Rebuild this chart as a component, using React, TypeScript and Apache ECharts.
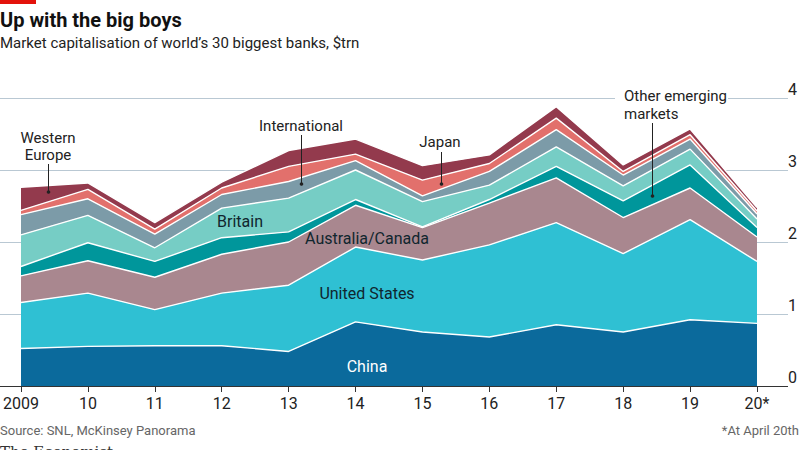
import React, { useEffect, useRef } from "react";
import * as echarts from "echarts";

const years = ["2009", "10", "11", "12", "13", "14", "15", "16", "17", "18", "19", "20*"];
const china = [0.52, 0.55, 0.56, 0.56, 0.48, 0.89, 0.75, 0.68, 0.85, 0.75, 0.92, 0.87];
const unitedStates = [0.64, 0.74, 0.5, 0.73, 0.92, 1.04, 1.0, 1.28, 1.42, 1.09, 1.39, 0.86];
const ausCanada = [0.37, 0.45, 0.45, 0.54, 0.6, 0.58, 0.45, 0.58, 0.62, 0.5, 0.44, 0.34];
const otherEmerging = [0.13, 0.25, 0.22, 0.23, 0.14, 0.08, 0.01, 0.05, 0.16, 0.23, 0.32, 0.13];
const britain = [0.44, 0.38, 0.19, 0.41, 0.47, 0.41, 0.35, 0.2, 0.27, 0.21, 0.22, 0.12];
const international = [0.28, 0.23, 0.19, 0.19, 0.23, 0.13, 0.08, 0.19, 0.24, 0.15, 0.14, 0.07];
const japan = [0.06, 0.13, 0.07, 0.09, 0.21, 0.09, 0.22, 0.11, 0.16, 0.05, 0.06, 0.04];
const westernEurope = [0.32, 0.09, 0.09, 0.08, 0.22, 0.21, 0.2, 0.12, 0.16, 0.09, 0.08, 0.05];
const yTicks = [0, 1, 2, 3, 4];

const FONT = "Roboto, 'Noto Sans', sans-serif";

export default function App() {
  const ref = useRef<HTMLDivElement>(null);
  useEffect(() => {
    if (!ref.current) return;
    const chart = echarts.init(ref.current, null, { renderer: "svg" });
    const defs = [
      { name: "China", data: china, color: "#0b6a9c" },
      { name: "United States", data: unitedStates, color: "#2fc0d3" },
      { name: "Australia/Canada", data: ausCanada, color: "#a9878f" },
      { name: "Other emerging markets", data: otherEmerging, color: "#00969b" },
      { name: "Britain", data: britain, color: "#76cdc5" },
      { name: "International", data: international, color: "#7c9ba8" },
      { name: "Japan", data: japan, color: "#e2706c" },
      { name: "Western Europe", data: westernEurope, color: "#933a4d" },
    ];
    chart.setOption({
      animation: false,
      grid: { left: 17, right: 43, top: 98, bottom: 64 },
      xAxis: {
        type: "category",
        data: years,
        boundaryGap: false,
        axisLine: { show: false },
        axisTick: { show: true, length: 6, lineStyle: { color: "#333", width: 1 } },
        axisLabel: { color: "#222", fontSize: 16, fontFamily: FONT, margin: 9, interval: 0 },
        splitLine: { show: false },
      },
      yAxis: {
        type: "value",
        min: 0,
        max: 4,
        interval: 1,
        position: "right",
        axisLine: { show: false },
        axisTick: { show: false },
        splitLine: { show: false },
        axisLabel: {
          color: "#222",
          fontSize: 16,
          fontFamily: FONT,
          align: "right",
          verticalAlign: "bottom",
          margin: 40,
          padding: [0, 0, 1, 0],
        },
      },
      series: defs.map((d, i) => ({
        type: "line",
        name: d.name,
        stack: "total",
        data: d.data,
        symbol: "none",
        z: 20 - i,
        lineStyle: { color: "#ffffff", width: 1.4 },
        itemStyle: { color: d.color },
        areaStyle: { color: d.color, opacity: 1 },
      })),
    });

    const gridColor = "#b9c8d3";
    const graphics: any[] = [];
    yTicks.forEach((v) => {
      const y = Math.round(chart.convertToPixel({ yAxisIndex: 0 }, v) as number) + 0.5;
      if (v === 0) return;
      if (v === 4) {
        graphics.push({ type: "line", z: -10, shape: { x1: 0, y1: y, x2: 615, y2: y }, style: { stroke: gridColor, lineWidth: 1 } });
        graphics.push({ type: "line", z: -10, shape: { x1: 728, y1: y, x2: 788, y2: y }, style: { stroke: gridColor, lineWidth: 1 } });
      } else {
        graphics.push({ type: "line", z: -10, shape: { x1: 0, y1: y, x2: 788, y2: y }, style: { stroke: gridColor, lineWidth: 1 } });
      }
    });
    const y0 = Math.round(chart.convertToPixel({ yAxisIndex: 0 }, 0) as number) + 0.5;
    graphics.push({ type: "line", z: 50, shape: { x1: 0, y1: y0, x2: 788, y2: y0 }, style: { stroke: "#333", lineWidth: 1.2 } });

    // header
    graphics.push({ type: "rect", z: 50, shape: { x: 0, y: 0, width: 36, height: 4 }, style: { fill: "#e3120b" } });
    const txt = (text: string, x: number, y: number, opts: any = {}) => ({
      type: "text",
      z: 60,
      x,
      y,
      style: {
        text,
        fill: opts.fill || "#222",
        fontSize: opts.size || 15,
        fontFamily: opts.family || FONT,
        fontWeight: opts.weight || "normal",
        align: opts.align || "center",
        verticalAlign: opts.va || "middle",
      },
    });
    graphics.push(txt("Up with the big boys", 0, 20, { size: 20, weight: "bold", align: "left", fill: "#111" }));
    graphics.push(txt("Market capitalisation of world\u2019s 30 biggest banks, $trn", 0, 43, { size: 15, align: "left", fill: "#222" }));

    // annotations
    graphics.push(txt("Western", 48, 138));
    graphics.push(txt("Europe", 48, 155));
    graphics.push(txt("International", 301, 126));
    graphics.push(txt("Japan", 440, 142));
    graphics.push(txt("Other emerging", 624, 96, { align: "left" }));
    graphics.push(txt("markets", 624, 114, { align: "left" }));
    const pointer = (x: number, y1: number, y2: number) => {
      graphics.push({ type: "line", z: 60, shape: { x1: x, y1, x2: x, y2 }, style: { stroke: "#222", lineWidth: 1 } });
      graphics.push({ type: "circle", z: 60, shape: { cx: x, cy: y2, r: 1.8 }, style: { fill: "#222" } });
    };
    pointer(48.5, 164, 192);
    pointer(301.5, 135, 184);
    pointer(441.5, 152, 184);
    pointer(652.5, 123, 196);

    graphics.push(txt("Britain", 240, 221, { size: 16, fill: "#10262e" }));
    graphics.push(txt("Australia/Canada", 367, 238, { size: 16, fill: "#10262e" }));
    graphics.push(txt("United States", 367, 293, { size: 16, fill: "#10262e" }));
    graphics.push(txt("China", 367, 366, { size: 16, fill: "#ffffff" }));

    // footer
    graphics.push(txt("Source: SNL, McKinsey Panorama", 0, 430, { size: 13, align: "left", fill: "#666" }));
    graphics.push(txt("*At April 20th", 799, 430, { size: 13, align: "right", fill: "#666" }));
    graphics.push(txt("The Economist", 0, 444, { size: 15, align: "left", va: "top", fill: "#333", family: "'DejaVu Serif', 'Liberation Serif', serif" }));

    chart.setOption({ graphic: { elements: graphics } });
    return () => chart.dispose();
  }, []);
  return <div ref={ref} style={{ width: 800, height: 450, position: "absolute", left: 0, top: 0, background: "#fff" }} />;
}
